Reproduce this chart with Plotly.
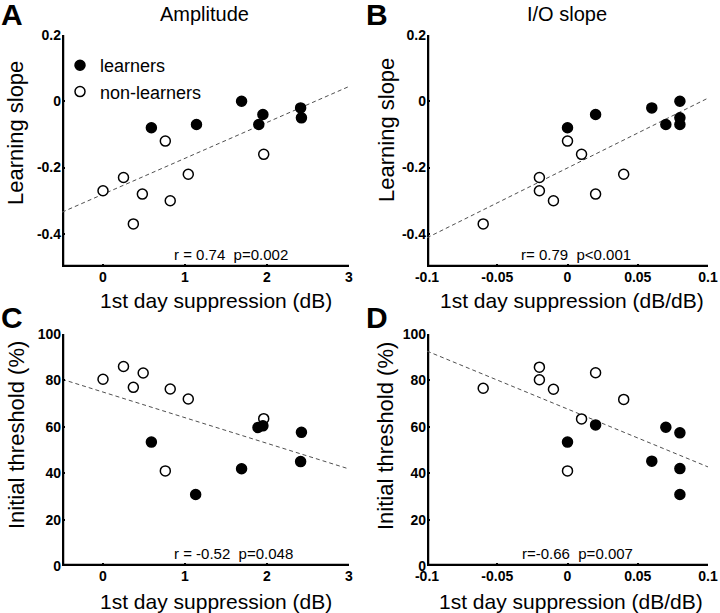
import numpy as np
import plotly.graph_objects as go

# ---------------- data ----------------
# Panel A: Amplitude suppression (dB) vs learning slope
a_learn_x = [0.59, 1.14, 1.69, 1.90, 1.95, 2.41, 2.42]
a_learn_y = [-0.08, -0.07, 0.00, -0.07, -0.04, -0.02, -0.05]
a_non_x = [0.76, 1.96, 0.25, 1.04, 0.00, 0.48, 0.82, 0.37]
a_non_y = [-0.12, -0.16, -0.23, -0.22, -0.27, -0.28, -0.30, -0.37]

# Panel B: I/O slope suppression (dB/dB) vs learning slope
b_learn_x = [0.00, 0.02, 0.06, 0.07, 0.08, 0.08, 0.08]
b_learn_y = [-0.08, -0.04, -0.02, -0.07, 0.00, -0.05, -0.07]
b_non_x = [0.00, 0.01, -0.02, -0.02, 0.04, -0.01, 0.02, -0.06]
b_non_y = [-0.12, -0.16, -0.23, -0.27, -0.22, -0.30, -0.28, -0.37]

# Panel C: Amplitude suppression (dB) vs initial threshold (%)
c_learn_x = [0.59, 1.13, 1.69, 1.89, 1.95, 2.42, 2.41]
c_learn_y = [53.4, 30.8, 41.9, 59.7, 60.4, 57.6, 45.0]
c_non_x = [0.00, 0.25, 0.49, 0.37, 0.82, 1.04, 0.76, 1.96]
c_non_y = [80.5, 86.0, 83.2, 77.0, 76.3, 72.0, 41.0, 63.5]

# Panel D: I/O slope suppression (dB/dB) vs initial threshold (%)
d_learn_x = [0.00, 0.02, 0.07, 0.08, 0.06, 0.08, 0.08]
d_learn_y = [53.4, 60.8, 59.8, 57.4, 45.2, 42.0, 30.8]
d_non_x = [-0.06, -0.02, -0.02, -0.01, 0.02, 0.04, 0.01, 0.00]
d_non_y = [76.6, 85.7, 80.3, 76.2, 83.3, 71.8, 63.4, 41.0]

stats_text = ["r = 0.74  p=0.002", "r= 0.79  p<0.001",
              "r = -0.52  p=0.048", "r=-0.66  p=0.007"]
panel_letters = ["A", "B", "C", "D"]
column_titles = ["Amplitude", "I/O slope"]
x_titles = ["1st day suppression (dB)", "1st day suppression (dB/dB)",
            "1st day suppression (dB)", "1st day suppression (dB/dB)"]
y_titles = ["Learning slope", "Learning slope",
            "Initial threshold (%)", "Initial threshold (%)"]

# tick definitions
x_db_vals = [0, 1, 2, 3]
x_db_text = ["0", "1", "2", "3"]
x_dbdb_vals = [-0.1, -0.05, 0, 0.05, 0.1]
x_dbdb_text = ["-0.1", "-0.05", "0", "0.05", "0.1"]
y_slope_vals = [0.2, 0, -0.2, -0.4]
y_slope_text = ["0.2", "0", "-0.2", "-0.4"]
y_thr_vals = [0, 20, 40, 60, 80, 100]
y_thr_text = ["0", "20", "40", "60", "80", "100"]

x_db_range = [-0.5, 3]
x_dbdb_range = [-0.1, 0.1]
y_slope_range = [-0.5, 0.2]
y_thr_range = [0, 100]

# ---------------- figure ----------------
FONT = "Arial"
W, H = 720, 613
ML, MR, MT, MB = 40, 10, 30, 40
PW, PH = W - ML - MR, H - MT - MB

def px_x(p):
    return (p - ML) / PW

def px_y(p):
    return 1 - (p - MT) / PH

dom_x_left = [px_x(62), px_x(349)]
dom_x_right = [px_x(427), px_x(708)]
dom_y_top = [px_y(267), px_y(35)]
dom_y_bot = [px_y(566), px_y(334)]

panels = [
    dict(lx=a_learn_x, ly=a_learn_y, nx=a_non_x, ny=a_non_y, xr=x_db_range, yr=y_slope_range,
         xt=(x_db_vals, x_db_text), yt=(y_slope_vals, y_slope_text),
         dx=dom_x_left, dy=dom_y_top),
    dict(lx=b_learn_x, ly=b_learn_y, nx=b_non_x, ny=b_non_y, xr=x_dbdb_range, yr=y_slope_range,
         xt=(x_dbdb_vals, x_dbdb_text), yt=(y_slope_vals, y_slope_text),
         dx=dom_x_right, dy=dom_y_top),
    dict(lx=c_learn_x, ly=c_learn_y, nx=c_non_x, ny=c_non_y, xr=x_db_range, yr=y_thr_range,
         xt=(x_db_vals, x_db_text), yt=(y_thr_vals, y_thr_text),
         dx=dom_x_left, dy=dom_y_bot),
    dict(lx=d_learn_x, ly=d_learn_y, nx=d_non_x, ny=d_non_y, xr=x_dbdb_range, yr=y_thr_range,
         xt=(x_dbdb_vals, x_dbdb_text), yt=(y_thr_vals, y_thr_text),
         dx=dom_x_right, dy=dom_y_bot),
]

fig = go.Figure()
layout = dict(
    width=W, height=H,
    margin=dict(l=ML, r=MR, t=MT, b=MB, autoexpand=False),
    plot_bgcolor="white",
    font=dict(family=FONT, color="black"),
    showlegend=True,
    legend=dict(x=px_x(60), y=px_y(47), xanchor="left", yanchor="top",
                font=dict(size=18), bgcolor="rgba(0,0,0,0)", tracegroupgap=0),
)
annotations = []

for i, p in enumerate(panels):
    n = i + 1
    xa = "x" if n == 1 else f"x{n}"
    ya = "y" if n == 1 else f"y{n}"
    xkey = "xaxis" if n == 1 else f"xaxis{n}"
    ykey = "yaxis" if n == 1 else f"yaxis{n}"

    # L-shaped axis frame along the left and bottom edges of the axis ranges
    fig.add_trace(go.Scatter(x=[p["xr"][0], p["xr"][0], p["xr"][1]],
                             y=[p["yr"][1], p["yr"][0], p["yr"][0]], mode="lines",
                             line=dict(color="black", width=4.5),
                             xaxis=xa, yaxis=ya, showlegend=False, hoverinfo="skip"))

    # regression line over all points
    allx = np.array(p["lx"] + p["nx"], dtype=float)
    ally = np.array(p["ly"] + p["ny"], dtype=float)
    slope, icpt = np.polyfit(allx, ally, 1)
    fx = np.array(p["xr"], dtype=float)
    fig.add_trace(go.Scatter(x=fx.tolist(), y=(slope * fx + icpt).tolist(), mode="lines",
                             line=dict(color="#505050", width=1, dash="4px,3px"),
                             xaxis=xa, yaxis=ya, showlegend=False, hoverinfo="skip"))
    fig.add_trace(go.Scatter(x=p["nx"], y=p["ny"], mode="markers", name="non-learners",
                             marker=dict(symbol="circle", size=10, color="white",
                                         line=dict(color="black", width=1.5)),
                             xaxis=xa, yaxis=ya, showlegend=(n == 1), legendrank=2))
    fig.add_trace(go.Scatter(x=p["lx"], y=p["ly"], mode="markers", name="learners",
                             marker=dict(symbol="circle", size=10, color="black",
                                         line=dict(color="black", width=1.5)),
                             xaxis=xa, yaxis=ya, showlegend=(n == 1), legendrank=1))

    common = dict(showline=False, ticks="inside", ticklen=3, tickwidth=2, tickcolor="black",
                  showgrid=False, zeroline=False, tickfont=dict(size=14))
    layout[xkey] = dict(domain=p["dx"], range=p["xr"], anchor=ya,
                        tickmode="array", tickvals=p["xt"][0],
                        ticktext=[f"<b>{t}</b>" for t in p["xt"][1]], **common)
    layout[ykey] = dict(domain=p["dy"], range=p["yr"], anchor=xa,
                        tickmode="array", tickvals=p["yt"][0],
                        ticktext=[f"<b>{t}</b>" for t in p["yt"][1]], **common)

    # stats text
    sx = [0.59, 0.53, 0.596, 0.534][i]
    annotations.append(dict(text=stats_text[i], xref=f"{xa} domain", yref=f"{ya} domain",
                            x=sx, y=0.056, xanchor="center", yanchor="middle", showarrow=False,
                            font=dict(size=15)))

# axis titles
xt_pos = [(216, 300), (572, 300), (216, 601), (571, 601)]
yt_pos = [(16, 133), (386, 130), (16, 435), (385, 436)]
for i in range(4):
    annotations.append(dict(text=x_titles[i], xref="paper", yref="paper",
                            x=px_x(xt_pos[i][0]), y=px_y(xt_pos[i][1]),
                            xanchor="center", yanchor="middle", showarrow=False,
                            font=dict(size=21)))
    annotations.append(dict(text=y_titles[i], xref="paper", yref="paper", textangle=-90,
                            x=px_x(yt_pos[i][0]), y=px_y(yt_pos[i][1]),
                            xanchor="center", yanchor="middle", showarrow=False,
                            font=dict(size=22)))

# panel letters
letter_pos = [(12, 14), (377, 14), (12, 317), (377, 317)]
for L, (lx, ly) in zip(panel_letters, letter_pos):
    annotations.append(dict(text=f"<b>{L}</b>", xref="paper", yref="paper",
                            x=px_x(lx), y=px_y(ly), xanchor="center", yanchor="middle",
                            showarrow=False, font=dict(size=30)))
# column titles
for t, cx in zip(column_titles, [204, 567]):
    annotations.append(dict(text=t, xref="paper", yref="paper", x=px_x(cx), y=px_y(14),
                            xanchor="center", yanchor="middle", showarrow=False,
                            font=dict(size=20)))

layout["annotations"] = annotations
fig.update_layout(**layout)
fig.write_html("out.html", config={"displayModeBar": False},
               post_script="document.body.style.margin='0px';")
